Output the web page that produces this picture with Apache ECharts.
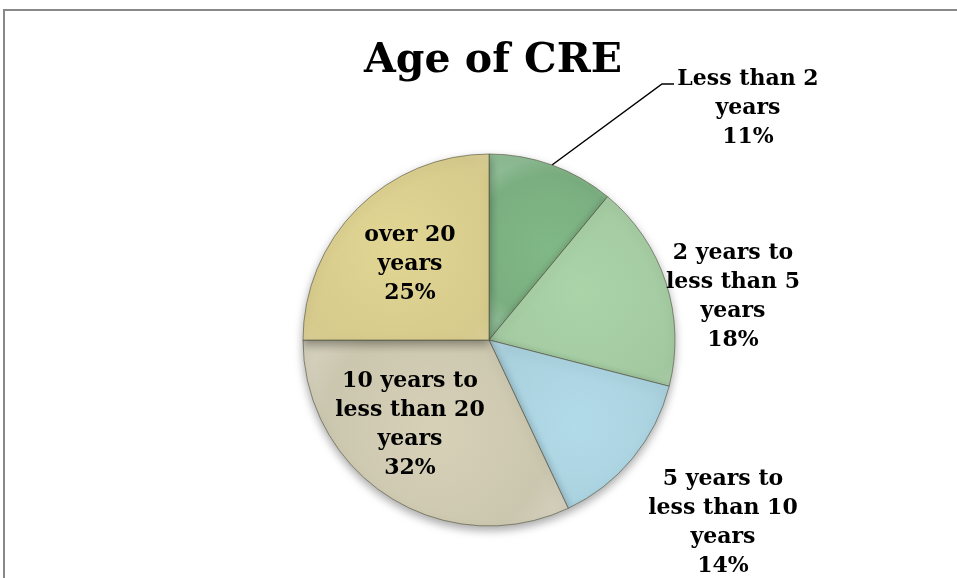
<!DOCTYPE html>
<html>
<head>
<meta charset="utf-8">
<script src="https://cdn.jsdelivr.net/npm/echarts@6/dist/echarts.min.js"></script>
<style>html,body{margin:0;padding:0;background:#fff}#c{width:957px;height:578px}</style>
</head>
<body>
<div id="c"></div>
<script>
const categories = ['Less than 2\nyears', '2 years to\nless than 5\nyears', '5 years to\nless than 10\nyears', '10 years to\nless than 20\nyears', 'over 20\nyears'];
const values = [11, 18, 14, 32, 25];
const colors = ['#7aae80', '#a2c8a0', '#a8cfdc', '#cbc6ae', '#d6ca8c'];
const labelPos = [[748, 108], [733, 297], [723, 523], [410, 425], [410, 264]];

const FONT = '"DejaVu Serif", serif';
const chart = echarts.init(document.getElementById('c'));
function grad(c){
  return new echarts.graphic.RadialGradient(0.5, 0.5, 0.75, [
    {offset: 0, color: echarts.color.lift(c, -0.06)},
    {offset: 0.8, color: c},
    {offset: 1, color: echarts.color.lift(c, 0.15)}
  ]);
}
chart.setOption({
  animation: false,
  title: {
    text: 'Age of CRE', left: 488, top: 36, textAlign: 'center',
    textStyle: {fontFamily: FONT, fontWeight: 'bold', fontSize: 41, color: '#000'}
  },
  graphic: [{type: 'rect', shape: {x: 4, y: 10, width: 1200, height: 800}, style: {fill: 'none', stroke: '#888', lineWidth: 2}}],
  series: [{
    type: 'pie',
    center: [489, 340],
    radius: 186,
    startAngle: 90,
    clockwise: true,
    data: values.map((v, i) => ({
      value: v, name: categories[i],
      itemStyle: {color: grad(colors[i])},
      labelLine: {show: i === 0}
    })),
    itemStyle: {borderColor: 'rgba(80,80,60,0.6)', borderWidth: 1, shadowBlur: 10, shadowOffsetY: 4, shadowColor: 'rgba(0,0,0,0.35)'},
    label: {
      show: true, position: 'outside',
      formatter: p => p.name + '\n' + p.value + '%',
      fontFamily: FONT, fontWeight: 'bold', fontSize: 22, lineHeight: 29, color: '#000', align: 'center'
    },
    labelLine: {show: true, lineStyle: {color: '#000', width: 1.5}, length: 20, length2: 10},
    labelLayout: function (params) {
      const p = labelPos[params.dataIndex];
      const out = {x: p[0], y: p[1], align: 'center', verticalAlign: 'middle'};
      if (params.dataIndex === 0 && params.labelLinePoints) {
        const s = params.labelLinePoints[0];
        out.labelLinePoints = [s, [662, 84], [674, 84]];
      }
      return out;
    }
  }]
});
</script>
</body>
</html>
